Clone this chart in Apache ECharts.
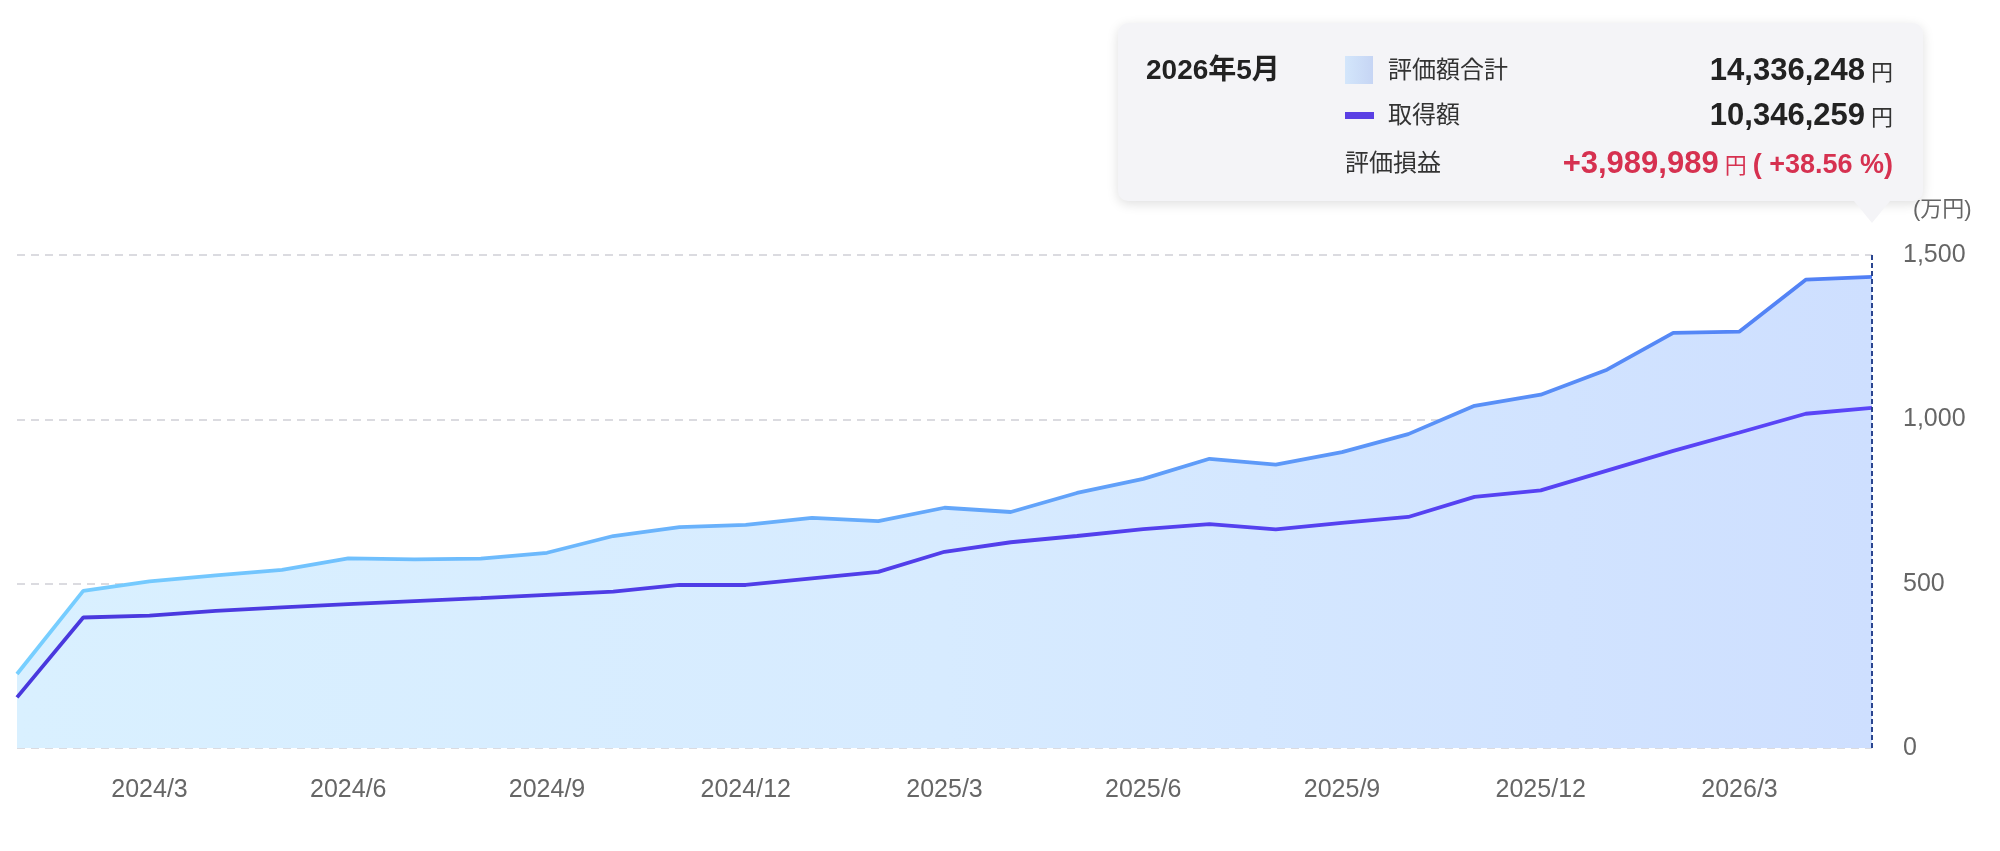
<!DOCTYPE html>
<html>
<head>
<meta charset="utf-8">
<script src="https://cdn.jsdelivr.net/npm/echarts@6.0.0/dist/echarts.min.js"></script>
<style>
  html, body { margin: 0; padding: 0; background: #fff; }
  #main { width: 2000px; height: 851px; }
</style>
</head>
<body>
<div id="main"></div>
<script>
// 月 (2024/1 - 2026/5)
var months = [
  '2024/1', '2024/2', '2024/3', '2024/4', '2024/5', '2024/6', '2024/7', '2024/8', '2024/9', '2024/10',
  '2024/11', '2024/12', '2025/1', '2025/2', '2025/3', '2025/4', '2025/5', '2025/6', '2025/7', '2025/8',
  '2025/9', '2025/10', '2025/11', '2025/12', '2026/1', '2026/2', '2026/3', '2026/4', '2026/5'
];

// 評価額合計 (万円)
var valuation = [
  225, 478, 507, 525, 542, 577, 574, 576, 594, 645,
  672, 679, 700, 690, 731, 718, 776, 819, 880, 862,
  900, 955, 1041, 1075, 1151, 1263, 1267, 1425, 1433.6248
];

// 取得額 (万円)
var cost = [
  154, 397, 403, 417, 428, 438, 447, 456, 466, 476,
  496, 496, 516, 536, 597, 626, 645, 666, 681, 665,
  685, 703, 764, 784, 844, 904, 960, 1017, 1034.6259
];

var yTicks = [0, 500, 1000, 1500];

var baseFont = '"Liberation Sans", "Noto Sans CJK JP", sans-serif';

function tipHtml(params) {
  var idx = params[0].dataIndex;
  var parts = months[idx].split('/');
  var title = parts[0] + '年' + parts[1] + '月';
  var total = Math.round(valuation[idx] * 10000);
  var buy = Math.round(cost[idx] * 10000);
  var diff = total - buy;
  var pct = (diff / buy * 100).toFixed(2);
  var sign = diff >= 0 ? '+' : '-';
  var red = '#d63150';

  var h = '';
  h += '<div style="position:relative;width:805px;height:178px;font-family:' + baseFont.replace(/"/g, "'") + ';color:#333;">';
  h += '<div style="position:absolute;left:28px;top:29px;font-size:28px;line-height:36px;font-weight:bold;color:#222;">' + title + '</div>';
  // 評価額合計
  h += '<div style="position:absolute;left:227px;top:33px;width:28px;height:28px;background:linear-gradient(90deg,#d3e6fb,#c6d5f4);"></div>';
  h += '<div style="position:absolute;left:270px;top:29px;font-size:24px;line-height:36px;color:#333;">評価額合計</div>';
  h += '<div style="position:absolute;right:30px;top:27px;line-height:40px;white-space:nowrap;color:#222;">'
     + '<span style="font-size:31px;font-weight:bold;">' + total.toLocaleString('en-US') + '</span>'
     + '<span style="font-size:22px;margin-left:6px;color:#333;">円</span></div>';
  // 取得額
  h += '<div style="position:absolute;left:227px;top:89px;width:29px;height:7px;background:#5a3fe4;"></div>';
  h += '<div style="position:absolute;left:270px;top:74px;font-size:24px;line-height:36px;color:#333;">取得額</div>';
  h += '<div style="position:absolute;right:30px;top:72px;line-height:40px;white-space:nowrap;color:#222;">'
     + '<span style="font-size:31px;font-weight:bold;">' + buy.toLocaleString('en-US') + '</span>'
     + '<span style="font-size:22px;margin-left:6px;color:#333;">円</span></div>';
  // 評価損益
  h += '<div style="position:absolute;left:227px;top:122px;font-size:24px;line-height:36px;color:#333;">評価損益</div>';
  h += '<div style="position:absolute;right:30px;top:120px;line-height:40px;white-space:nowrap;color:' + red + ';">'
     + '<span style="font-size:31px;font-weight:bold;">' + sign + Math.abs(diff).toLocaleString('en-US') + '</span>'
     + '<span style="font-size:22px;margin-left:6px;">円</span>'
     + '<span style="font-size:27px;font-weight:bold;margin-left:6px;">( ' + sign + Math.abs(pct) + ' %)</span></div>';
  // arrow
  h += '<div style="position:absolute;left:736px;top:178px;width:0;height:0;border-left:18px solid transparent;border-right:18px solid transparent;border-top:22px solid #f4f4f7;"></div>';
  h += '</div>';
  return h;
}

var chart = echarts.init(document.getElementById('main'), null, { renderer: 'canvas' });

var option = {
  animation: false,
  backgroundColor: '#ffffff',
  textStyle: { fontFamily: baseFont },
  grid: {
    left: 17,
    right: 128,
    top: 255,
    bottom: 103,
    containLabel: false
  },
  tooltip: {
    trigger: 'axis',
    triggerOn: 'none',
    alwaysShowContent: true,
    transitionDuration: 0,
    padding: 0,
    backgroundColor: '#f4f4f7',
    borderWidth: 0,
    extraCssText: 'border-radius:10px;box-shadow:0 3px 12px rgba(0,0,0,0.13);',
    position: function (point) {
      return [point[0] - 754, 23];
    },
    formatter: tipHtml,
    axisPointer: {
      type: 'line',
      lineStyle: { color: '#2a4590', width: 2, type: [5, 3] }
    }
  },
  xAxis: {
    type: 'category',
    boundaryGap: false,
    data: months,
    axisLine: { show: false },
    axisTick: { show: false },
    splitLine: { show: false },
    axisLabel: {
      interval: function (index) { return index % 3 === 2; },
      margin: 30,
      fontSize: 25,
      color: '#666666',
      fontFamily: baseFont
    }
  },
  yAxis: {
    type: 'value',
    position: 'right',
    min: yTicks[0],
    max: yTicks[yTicks.length - 1],
    interval: 500,
    name: '(万円)',
    nameLocation: 'end',
    nameGap: 45,
    nameTextStyle: {
      fontSize: 22,
      color: '#666666',
      align: 'left',
      verticalAlign: 'middle',
      padding: [0, 0, 0, 41],
      fontFamily: baseFont
    },
    axisLine: { show: false },
    axisTick: { show: false },
    axisLabel: {
      margin: 31,
      fontSize: 25,
      color: '#666666',
      fontFamily: baseFont,
      formatter: function (v) { return v.toLocaleString('en-US'); }
    },
    splitLine: {
      show: true,
      lineStyle: { color: '#cfd0d6', width: 1.5, type: [8, 6] }
    }
  },
  series: [
    {
      name: '評価額合計',
      type: 'line',
      data: valuation,
      symbol: 'none',
      smooth: false,
      lineStyle: {
        width: 3.8,
        color: new echarts.graphic.LinearGradient(0, 0, 1, 0, [
          { offset: 0, color: '#6dbdee' },
          { offset: 1, color: '#4a74df' }
        ])
      },
      areaStyle: {
        origin: 'start',
        opacity: 1,
        color: new echarts.graphic.LinearGradient(0, 0, 1, 0, [
          { offset: 0, color: '#c6dbf9' },
          { offset: 0.5, color: '#c4d6f7' },
          { offset: 1, color: '#bccbf2' }
        ])
      },
      z: 2
    },
    {
      name: '取得額',
      type: 'line',
      data: cost,
      symbol: 'none',
      smooth: false,
      lineStyle: {
        width: 3.8,
        color: new echarts.graphic.LinearGradient(0, 0, 1, 0, [
          { offset: 0, color: '#4333c9' },
          { offset: 1, color: '#523fe2' }
        ])
      },
      z: 3
    }
  ]
};

chart.setOption(option);

// 最新月のツールチップを表示
chart.dispatchAction({
  type: 'showTip',
  seriesIndex: 0,
  dataIndex: months.length - 1
});
</script>
</body>
</html>
